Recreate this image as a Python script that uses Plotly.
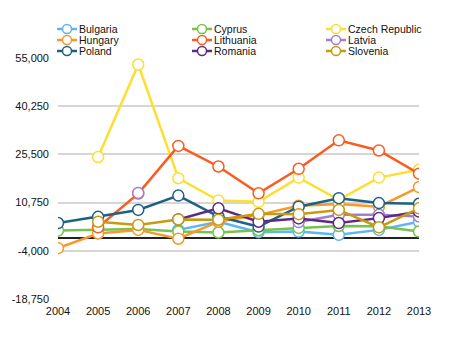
import plotly.graph_objects as go

years = [2004, 2005, 2006, 2007, 2008, 2009, 2010, 2011, 2012, 2013]
N = None
bulgaria = [N, N, N, 2400, 4900, 1700, 1900, 900, 2400, 4900]
cyprus = [2200, 2400, 2700, 1900, 1600, 2300, 3000, 3600, 3500, 1900]
czech = [N, 24700, 53000, 18200, 11400, 11000, 18400, 11600, 18400, 20800]
hungary = [-3200, 1300, 2400, -300, 4900, 7000, 9800, 10300, 9500, 15500]
lithuania = [N, 3200, 13500, 28100, 21800, 13600, 21100, 29800, 26700, 19600]
latvia = [N, N, 13700, N, N, N, 4800, 7000, 7000, 6500]
poland = [4500, 6400, 8500, 12900, 6500, 3400, 9500, 12100, 10600, 10400]
romania = [N, N, N, 5600, 9000, 4900, 5900, 4500, 6000, 8000]
slovenia = [N, 4900, 3900, 5600, 5500, 7300, 7200, 8500, 3200, 9000]

series = [
    ("Bulgaria", bulgaria, "#5DB5F3"),
    ("Cyprus", cyprus, "#77C24C"),
    ("Czech Republic", czech, "#FCDF32"),
    ("Hungary", hungary, "#F7982C"),
    ("Lithuania", lithuania, "#FB5B1F"),
    ("Latvia", latvia, "#A17FCC"),
    ("Poland", poland, "#1E6283"),
    ("Romania", romania, "#5E2B80"),
    ("Slovenia", slovenia, "#C89A12"),
]

ytick_vals = [55000, 40250, 25500, 10750, -4000, -18750]
ytick_text = ["55,000", "40,250", "25,500", "10,750", "-4,000", "-18,750"]

W, H = 458, 347
ML, MR, MT, MB = 58, 39, 58, 48
PW, PH = W - ML - MR, H - MT - MB


def px2paper_x(px):
    return (px - ML) / PW


def px2paper_y(py):
    return (H - MB - py) / PH


fig = go.Figure()
for name, vals, col in series:
    fig.add_trace(go.Scatter(
        x=years, y=vals, name=name, mode="lines+markers",
        line=dict(color=col, width=2.5),
        marker=dict(symbol="circle", size=11, color="white",
                    line=dict(color=col, width=1.5)),
        connectgaps=False, showlegend=False,
    ))

# custom compact legend (3 columns x 3 rows)
shapes = []
annotations = []
col_x = [57, 192, 326]
row_y = [29, 40, 51]
for i, (name, vals, col) in enumerate(series):
    cx = col_x[i % 3]
    ry = row_y[i // 3]
    yp = px2paper_y(ry)
    shapes.append(dict(type="line", xref="paper", yref="paper",
                       x0=px2paper_x(cx), x1=px2paper_x(cx + 20), y0=yp, y1=yp,
                       line=dict(color=col, width=2.5)))
    shapes.append(dict(type="circle", xref="paper", yref="paper",
                       xsizemode="pixel", ysizemode="pixel",
                       xanchor=px2paper_x(cx + 10), yanchor=yp,
                       x0=-4.5, x1=4.5, y0=-4.5, y1=4.5,
                       fillcolor="white", line=dict(color=col, width=1.5)))
    annotations.append(dict(text=name, xref="paper", yref="paper",
                            x=px2paper_x(cx + 21), y=yp, xanchor="left",
                            yanchor="middle", showarrow=False, borderpad=0,
                            font=dict(size=10.5, color="#111")))

fig.update_layout(
    width=W, height=H,
    margin=dict(l=ML, r=MR, t=MT, b=MB, pad=0),
    paper_bgcolor="white", plot_bgcolor="white",
    font=dict(family="Liberation Sans, Arial, sans-serif", size=11, color="#111"),
    showlegend=False,
    shapes=shapes,
    annotations=annotations,
    xaxis=dict(
        range=[2004, 2013], tickvals=years, ticktext=[str(y) for y in years],
        showgrid=False, zeroline=False, showline=False, ticks="",
        ticklabelstandoff=4, fixedrange=True,
    ),
    yaxis=dict(
        range=[-18750, 55000], tickvals=ytick_vals, ticktext=ytick_text,
        showgrid=True, gridcolor="#D6D6D6", gridwidth=2,
        zeroline=True, zerolinecolor="#222", zerolinewidth=1.5,
        showline=False, ticks="", ticklabelstandoff=8,
    ),
)

fig.write_html("out.html")
